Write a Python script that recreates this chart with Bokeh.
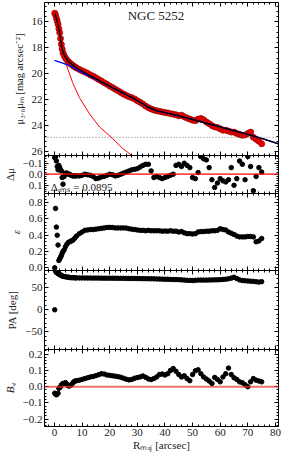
from bokeh.plotting import figure
from bokeh.layouts import column
from bokeh.models import (Range1d, LinearAxis, SingleIntervalTicker, CustomJSTickFormatter,
                          Span, Label, ColumnDataSource)
from bokeh.embed import file_html
from bokeh.resources import INLINE

# ---------------- data ----------------
R_MAJ = [0.1, 0.4, 0.7, 1.0, 1.3, 1.6, 1.9, 2.2, 2.5, 2.8, 3.1, 3.5, 4.0, 4.5, 5.0, 5.5,
         6.0, 6.5, 7.0, 7.5, 8, 9, 10, 11, 12, 13, 14, 15, 16, 17, 18, 19, 20, 21, 22,
         23, 24, 25, 26, 27, 28, 29, 30, 31, 32, 33, 34, 35, 36, 37, 38, 39, 40, 41, 42,
         43, 44, 45, 46, 47, 48, 49, 50, 51, 52, 53, 54, 55, 56, 57, 58, 59, 60, 61, 62,
         63, 64, 65, 66, 67, 68, 69, 70, 71, 72, 73, 74, 75]

MU = [15.35, 15.5, 15.75, 15.95, 16.2, 16.55, 16.85, 17.3, 17.75, 18.1, 18.4, 18.6, 18.8,
      18.95, 19.07, 19.17, 19.27, 19.35, 19.43, 19.5, 19.57, 19.68, 19.78, 19.88, 19.98,
      20.1, 20.2, 20.32, 20.45, 20.57, 20.7, 20.82, 20.95, 21.07, 21.2, 21.32, 21.45,
      21.57, 21.68, 21.78, 21.85, 21.95, 22.08, 22.2, 22.33, 22.5, 22.62, 22.72, 22.8,
      22.86, 22.9, 22.95, 23.0, 23.03, 23.08, 23.12, 23.17, 23.25, 23.2, 23.32, 23.42,
      23.5, 23.58, 23.62, 23.5, 23.45, 23.55, 23.72, 23.85, 24.0, 24.1, 24.15, 24.25,
      24.35, 24.35, 24.42, 24.5, 24.5, 24.6, 24.68, 24.75, 24.72, 24.6, 24.5, 24.9,
      25.05, 25.2, 25.4]

DMU = [-0.15, -0.16, -0.12, -0.07, -0.04, -0.08, -0.06, -0.04, -0.03, 0.03, 0.09, 0.02,
       -0.01, -0.01, 0.0, 0.0, 0.01, 0.015, 0.015, 0.015, 0.015, 0.015, 0.01, 0.0, 0.005,
       0.01, 0.02, 0.04, 0.035, 0.025, 0.02, 0.01, 0.0, 0.005, 0.015, 0.01, 0.0, -0.01,
       -0.02, -0.03, -0.04, -0.045, -0.05, -0.065, -0.08, -0.09, -0.09, -0.03, 0.03, 0.02,
       0.03, 0.04, 0.03, 0.02, 0.01, 0.0, -0.08, -0.09, -0.07, -0.1, -0.08, -0.06, 0.03,
       0.04, -0.015, -0.16, -0.14, -0.13, -0.06, 0.05, 0.12, 0.08, 0.04, 0.06, 0.07, 0.05,
       -0.06, 0.1, 0.04, -0.12, -0.09, 0.05, -0.16, -0.07, 0.15, 0.02, -0.06, -0.02]

ELL = [0.0, 0.73, 0.50, 0.40, 0.28, 0.09, 0.11, 0.13, 0.15, 0.18, 0.2, 0.22, 0.26, 0.29,
       0.31, 0.32, 0.33, 0.335, 0.35, 0.37, 0.39, 0.42, 0.44, 0.46, 0.465, 0.47, 0.47,
       0.475, 0.48, 0.485, 0.49, 0.495, 0.497, 0.495, 0.49, 0.49, 0.49, 0.49, 0.488, 0.48,
       0.475, 0.47, 0.465, 0.46, 0.46, 0.455, 0.46, 0.455, 0.455, 0.455, 0.455, 0.45,
       0.452, 0.45, 0.455, 0.45, 0.45, 0.44, 0.445, 0.43, 0.42, 0.42, 0.415, 0.42, 0.44,
       0.445, 0.445, 0.45, 0.45, 0.455, 0.455, 0.46, 0.48, 0.47, 0.465, 0.44, 0.425, 0.41,
       0.39, 0.38, 0.38, 0.38, 0.385, 0.385, 0.38, 0.32, 0.33, 0.36]

PA = [0.0, 88, 86, 84, 82, 83, 80, 79, 78, 77, 76, 75.5, 75, 74.5, 74, 73.5, 73, 73, 72.8,
      72.6, 72.5, 72.4, 72.3, 72.2, 72.2, 72.1, 72.0, 72.0, 72.0, 71.9, 71.9, 71.8, 71.8,
      71.7, 71.7, 71.6, 71.5, 71.5, 71.4, 71.3, 71.2, 71.1, 71.0, 70.9, 70.8, 70.7, 70.6,
      70.5, 70.3, 70.1, 69.9, 69.7, 69.5, 69.3, 69.1, 68.9, 68.7, 68.5, 68.0, 67.5, 67.0,
      66.8, 66.5, 67.0, 67.5, 67.5, 67.5, 67.5, 67.7, 67.8, 68.0, 68.2, 68.5, 69.0, 69.5,
      70.5, 72.0, 74.0, 71.0, 68.0, 66.5, 66.0, 65.5, 65.0, 64.5, 63.8, 63.0, 64.0]

B4 = [-0.04, -0.045, -0.05, -0.045, -0.04, -0.01, -0.005, 0.0, 0.01, 0.015, 0.02, 0.02,
      0.025, 0.015, 0.005, 0.005, 0.01, 0.02, 0.03, 0.035, 0.037, 0.04, 0.045, 0.05, 0.055,
      0.06, 0.063, 0.068, 0.074, 0.08, 0.078, 0.072, 0.07, 0.067, 0.065, 0.062, 0.058,
      0.052, 0.046, 0.042, 0.045, 0.052, 0.056, 0.06, 0.066, 0.058, 0.048, 0.044, 0.05,
      0.06, 0.075, 0.078, 0.072, 0.08, 0.1, 0.112, 0.095, 0.075, 0.06, 0.067, 0.05, 0.037,
      0.075, 0.098, 0.104, 0.08, 0.06, 0.047, 0.035, 0.02, 0.057, 0.045, 0.03, 0.06, 0.08,
      0.115, 0.075, 0.055, 0.045, 0.03, 0.025, 0.012, 0.0, 0.03, 0.05, 0.04, 0.035, 0.03]

MODEL_R = [0.2, 0.6, 1.0, 1.5, 2.0, 2.5, 3.0, 3.5, 4.0, 5.0, 6.0, 7.0, 8.0, 10, 12, 15, 18,
           21, 24, 28, 31, 34, 37, 40, 45, 50, 55, 60, 65, 70, 75, 81.5]
MODEL_TOTAL = [15.4, 15.7, 16.0, 16.5, 17.0, 17.75, 18.3, 18.55, 18.75, 19.05, 19.25, 19.4,
               19.55, 19.8, 20.05, 20.38, 20.75, 21.07, 21.4, 21.83, 22.2, 22.6, 22.85,
               23.0, 23.25, 23.53, 23.82, 24.1, 24.4, 24.68, 24.98, 25.43]

DISK_R = [0, 3, 6, 9, 12, 15, 18, 21, 24, 28, 31, 34, 37, 40, 45, 50, 55, 60, 65, 70, 75,
          81.5]
DISK_MU = [18.99, 19.2, 19.45, 19.8, 20.12, 20.42, 20.76, 21.08, 21.41, 21.84, 22.2, 22.6,
           22.85, 23.0, 23.25, 23.53, 23.82, 24.1, 24.4, 24.68, 24.98, 25.43]

BULGE_R = [0.2, 0.6, 1.0, 1.5, 2.0, 2.5, 3.0, 4.0, 5.0, 6.6, 9.0, 12.7, 16.3, 21.1, 24.7,
           28.3, 31.0]
BULGE_MU = [15.45, 15.8, 16.2, 16.8, 17.4, 17.95, 18.45, 19.1, 19.75, 20.7, 21.83, 23.1,
            24.1, 25.0, 25.76, 26.34, 26.75]

SKY_LIMIT = 24.9
GALAXY = "NGC 5252"
RMS_TEXT = "\u0394\u1d63\u2098\u209b = 0.0895"

# ---------------- styling ----------------
FONT = "Liberation Serif"
FW = 234
LEFT = 44
RIGHT = 4
PAD = 7          # overlap pad so tick labels near a frame edge are not clipped
XR = Range1d(-3.6, 81.1)

src = ColumnDataSource(dict(r=R_MAJ, mu=MU, dmu=DMU, ell=ELL, pa=PA, b4=B4))


def fmt(d):
    return CustomJSTickFormatter(code=(
        "const v = Math.abs(tick) < 1e-9 ? 0 : tick;"
        "return v.toFixed(%d).replace('-', '\\u2212');" % d))


def style_axis(ax, interval, digits, labels):
    ax.ticker = SingleIntervalTicker(interval=interval, num_minor_ticks=5)
    ax.major_tick_in = 4
    ax.major_tick_out = 0
    ax.minor_tick_in = 2
    ax.minor_tick_out = 0
    ax.axis_line_color = "black"
    ax.major_tick_line_color = "black"
    ax.minor_tick_line_color = "black"
    if labels:
        ax.formatter = fmt(digits)
        ax.major_label_text_font = FONT
        ax.major_label_text_font_size = "11px"
        ax.major_label_text_color = "#222222"
        ax.major_label_standoff = 2
    else:
        ax.major_label_text_font_size = "0px"
        ax.major_label_standoff = 0
        ax.major_label_text_alpha = 0


def panel(frame_h, y_range, ylabel, y_int, y_dig, first=False, xlabel=None,
          italic=False, label_size="11px"):
    p = figure(frame_width=FW, frame_height=frame_h, x_range=XR, y_range=y_range,
               output_backend="svg", toolbar_location=None,
               min_border_left=LEFT, min_border_right=RIGHT,
               min_border_top=2 if first else PAD,
               min_border_bottom=20 if xlabel is not None else PAD)
    if not first:
        p.margin = (-2 * PAD, 0, 0, 0)
    p.grid.visible = False
    p.outline_line_color = "black"
    p.background_fill_color = "white"
    p.border_fill_alpha = 0
    ax_b = p.below[0]
    ax_l = p.left[0]
    style_axis(ax_b, 10, 0, xlabel is not None)
    if xlabel is not None:
        ax_b.axis_label = xlabel
        ax_b.axis_label_text_font = FONT
        ax_b.axis_label_text_font_size = "11px"
        ax_b.axis_label_text_font_style = "normal"
        ax_b.axis_label_standoff = 0
        ax_b.axis_label_text_color = "#222222"
    style_axis(ax_l, y_int, y_dig, True)
    ax_l.axis_label = ylabel
    ax_l.axis_label_text_font = FONT
    ax_l.axis_label_text_font_size = label_size
    ax_l.axis_label_text_font_style = "italic" if italic else "normal"
    ax_l.axis_label_standoff = 4
    ax_l.axis_label_text_color = "#222222"
    ax_top = LinearAxis()
    style_axis(ax_top, 10, 0, False)
    p.add_layout(ax_top, "above")
    ax_r = LinearAxis()
    style_axis(ax_r, y_int, y_dig, False)
    p.add_layout(ax_r, "right")
    return p


# Panel 1: surface brightness
p1 = panel(153, Range1d(26.3, 14.53), "\u03bc\u2083.\u2086\u03bc\u2098 [mag arcsec\u207b\u00b2]",
           2, 0, first=True, label_size="10.5px")
p1.add_layout(Span(location=SKY_LIMIT, dimension="width", line_color="#555555",
                   line_width=0.8, line_dash="1 2"))
p1.scatter("r", "mu", source=src, size=6, fill_color="#ee0000", line_color="#990000",
           line_width=0.8)
p1.line(BULGE_R, BULGE_MU, line_color="red", line_width=1)
p1.line(DISK_R, DISK_MU, line_color="blue", line_width=1.3)
p1.line(MODEL_R, MODEL_TOTAL, line_color="black", line_width=1.4)
p1.add_layout(Label(x=26.5, y=15.55, text=GALAXY, text_font=FONT, text_font_size="13px",
                    text_baseline="middle", text_color="#222222"))

# Panel 2: residuals
p2 = panel(38, Range1d(0.175, -0.17), "\u0394\u03bc", 0.1, 1)
p2.add_layout(Span(location=0, dimension="width", line_color="red", line_width=1.2))
p2.scatter("r", "dmu", source=src, size=4.5, fill_color="black", line_color="black")
p2.add_layout(Label(x=-1.3, y=0.12, text=RMS_TEXT, text_font=FONT, text_font_size="11px",
                    text_baseline="alphabetic", text_color="#222222"))

# Panel 3: ellipticity
p3 = panel(77, Range1d(-0.033, 0.913), "\u03b5", 0.2, 1, italic=True)
p3.scatter("r", "ell", source=src, size=4.5, fill_color="black", line_color="black")

# Panel 4: position angle
p4 = panel(79, Range1d(-90.2, 89.3), "PA [deg]", 50, 0)
p4.scatter("r", "pa", source=src, size=4.5, fill_color="black", line_color="black")

# Panel 5: B4
p5 = panel(77, Range1d(-0.245, 0.229), "B\u2084", 0.1, 1,
           xlabel="R\u2098\u2090\u2c7c [arcsec]", italic=True)
p5.add_layout(Span(location=0, dimension="width", line_color="#ee3333", line_alpha=0.7,
                   line_width=2))
p5.scatter("r", "b4", source=src, size=4.5, fill_color="black", line_color="black")

layout = column(p1, p2, p3, p4, p5, spacing=0)

open("out.html", "w").write(file_html(layout, INLINE))
